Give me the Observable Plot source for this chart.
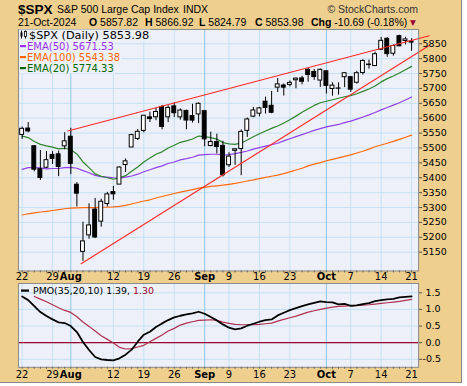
<!DOCTYPE html>
<html><head><meta charset="utf-8">
<script src="https://cdn.jsdelivr.net/npm/d3@7"></script>
<script src="https://cdn.jsdelivr.net/npm/@observablehq/plot@0.6"></script>
<style>
body{margin:0;background:#fff;}
#wrap{position:relative;width:461px;height:382px;background:#EECF8E;border-right:1px solid #8a8a8a;border-bottom:1px solid #8a8a8a;overflow:hidden;font-family:"DejaVu Sans",sans-serif}
#wrap svg{position:absolute;left:0;overflow:visible}
</style></head>
<body><div id="wrap"></div>
<script>
// ---- data ----
const dates = ["Jul22","Jul23","Jul24","Jul25","Jul26","Jul29","Jul30","Jul31","Aug1","Aug2",
"Aug5","Aug6","Aug7","Aug8","Aug9","Aug12","Aug13","Aug14","Aug15","Aug16",
"Aug19","Aug20","Aug21","Aug22","Aug23","Aug26","Aug27","Aug28","Aug29","Aug30",
"Sep3","Sep4","Sep5","Sep6","Sep9","Sep10","Sep11","Sep12","Sep13","Sep16",
"Sep17","Sep18","Sep19","Sep20","Sep23","Sep24","Sep25","Sep26","Sep27","Sep30",
"Oct1","Oct2","Oct3","Oct4","Oct7","Oct8","Oct9","Oct10","Oct11","Oct14",
"Oct15","Oct16","Oct17","Oct18","Oct21"];
const opens = [5544.0,5565.3,5505.8,5428.7,5433.7,5476.6,5478.7,5505.6,5537.8,5376.6,
5151.1,5206.4,5293.1,5252.6,5311.7,5351.9,5377.0,5442.6,5501.7,5530.5,
5557.2,5602.9,5603.1,5637.8,5602.9,5639.7,5602.9,5624.5,5607.3,5612.7,
5623.9,5506.7,5520.1,5507.3,5442.1,5490.5,5496.4,5557.5,5605.2,5615.2,
5655.5,5641.7,5702.6,5709.8,5711.9,5727.5,5733.7,5762.2,5755.4,5726.5,
5757.7,5698.2,5699.0,5737.8,5737.8,5719.1,5751.8,5778.4,5775.1,5829.8,
5866.7,5816.6,5875.6,5859.4,5857.8];
const highs = [5570.4,5585.3,5508.0,5491.6,5488.3,5487.7,5489.5,5551.5,5566.2,5383.9,
5250.9,5312.3,5330.6,5328.0,5351.0,5371.2,5436.5,5463.2,5546.2,5562.0,
5608.3,5620.5,5632.7,5643.2,5641.8,5651.6,5631.2,5627.0,5647.0,5651.4,
5623.9,5553.0,5546.3,5522.5,5484.2,5497.9,5560.4,5600.7,5636.3,5636.1,
5670.8,5689.8,5733.6,5715.1,5725.4,5735.3,5741.0,5767.4,5763.8,5765.1,
5757.7,5719.1,5718.8,5753.3,5739.3,5757.6,5796.8,5795.0,5822.1,5871.4,
5870.4,5846.5,5878.5,5872.2,5866.9];
const lows = [5529.0,5550.9,5420.0,5391.0,5430.7,5444.4,5403.9,5493.8,5410.4,5302.0,
5119.3,5193.6,5195.5,5233.9,5302.0,5324.4,5377.0,5417.8,5501.7,5525.2,
5550.7,5585.5,5591.6,5561.0,5585.2,5602.3,5593.5,5561.0,5583.7,5581.8,
5504.3,5503.7,5480.2,5402.6,5434.5,5441.7,5407.0,5535.5,5601.7,5604.5,
5614.1,5615.1,5686.4,5674.5,5704.9,5699.0,5712.1,5721.0,5727.3,5703.5,
5681.3,5674.0,5677.4,5702.8,5686.9,5714.6,5745.0,5764.8,5775.1,5829.8,
5804.5,5808.3,5840.3,5846.1,5824.8];
const closes = [5564.4,5555.7,5427.1,5399.2,5459.1,5463.5,5436.4,5522.3,5446.7,5346.6,
5186.3,5240.0,5199.5,5319.3,5344.2,5344.4,5434.4,5455.2,5543.2,5554.3,
5608.3,5597.1,5620.9,5570.6,5634.6,5616.8,5625.8,5592.2,5592.0,5648.4,
5528.9,5520.1,5503.4,5408.4,5471.1,5495.5,5554.1,5595.8,5626.0,5633.1,
5634.6,5618.3,5713.6,5702.6,5718.6,5732.9,5722.3,5745.4,5738.2,5762.5,
5708.8,5709.5,5699.9,5751.1,5695.9,5751.1,5792.0,5780.1,5815.0,5859.9,
5815.3,5842.5,5841.5,5864.7,5854.0];
const ema20 = [5540,5535,5522,5512,5507,5503,5497,5499,5494,5480,
5453,5434,5413,5405,5400,5395,5400,5407,5422,5436,
5453,5466,5479,5487,5500,5509,5519,5524,5530,5540,
5538,5535,5530,5518,5514,5512,5517,5527,5538,5548,
5557,5566,5574,5584,5595,5607,5620,5632,5643,5652,
5657,5662,5667,5672,5676,5682,5690,5698,5708,5722,
5733,5742,5752,5763,5774];
const ema50 = [5428,5434,5434,5433,5430,5431,5431,5434,5435,5432,
5424,5417,5408,5404,5402,5400,5399,5402,5406,5412,
5420,5427,5434,5440,5448,5453,5460,5464,5469,5476,
5478,5479,5479,5477,5478,5481,5485,5490,5496,5501,
5506,5511,5516,5524,5531,5538,5545,5552,5559,5565,
5571,5575,5579,5585,5590,5597,5604,5611,5619,5628,
5636,5644,5652,5661,5671];
const ema100 = [5275,5279,5282,5285,5287,5290,5293,5296,5298,5299,
5300,5300,5300,5301,5301,5302,5304,5307,5312,5317,
5322,5326,5332,5337,5342,5347,5352,5356,5360,5365,
5368,5371,5373,5375,5378,5381,5385,5389,5393,5397,
5401,5405,5409,5414,5420,5426,5432,5440,5446,5451,
5457,5462,5467,5472,5477,5483,5489,5496,5504,5510,
5516,5522,5529,5536,5543];
const pmo = [1.39,1.28,1.10,0.92,0.80,0.70,0.61,0.59,0.50,0.32,
0.02,-0.22,-0.43,-0.50,-0.52,-0.53,-0.47,-0.36,-0.21,0.03,
0.24,0.33,0.47,0.58,0.68,0.76,0.81,0.85,0.88,0.93,
0.87,0.77,0.67,0.55,0.45,0.40,0.43,0.51,0.57,0.63,
0.68,0.70,0.82,0.90,0.98,1.04,1.10,1.15,1.20,1.24,
1.22,1.21,1.15,1.17,1.11,1.12,1.16,1.19,1.25,1.28,
1.30,1.32,1.36,1.38,1.39];
const pmoSignal = [null,null,1.39,1.31,1.23,1.14,1.05,0.97,0.91,0.78,
0.62,0.49,0.35,0.21,0.10,-0.01,-0.14,-0.19,-0.18,-0.13,
-0.08,0.03,0.13,0.23,0.35,0.43,0.53,0.59,0.63,0.67,
0.68,0.69,0.67,0.62,0.58,0.55,0.54,0.54,0.54,0.55,
0.57,0.59,0.65,0.70,0.75,0.80,0.86,0.92,0.96,1.00,
1.04,1.07,1.09,1.10,1.11,1.12,1.13,1.14,1.16,1.18,
1.20,1.22,1.24,1.27,1.30];
// trendlines (day index, value)
const upperTrendIdx = [7.5, 66.9];
const upperTrendVal = [5557, 5877];
const lowerTrendIdx = [9.7, 66.9];
const lowerTrendVal = [5111, 5844];
// axis ticks
const xTickIdx = [0,5,8,15,20,25,30,34,39,44,50,54,59,64];
const xTickLabels = ["22","29","Aug","12","19","26","Sep","9","16","23","Oct","7","14","21"];
const monthTickIdx = [8,30,50];
const priceTicks = [5150,5200,5250,5300,5350,5400,5450,5500,5550,5600,5650,5700,5750,5800,5850];
const pmoTicks = [-0.5,0,0.5,1.0,1.5];
const header = {sym:"$SPX", name:"S&P 500 Large Cap Index", exch:"INDX", date:"21-Oct-2024",
  o:"5857.82", h:"5866.92", l:"5824.79", c:"5853.98", chg:"-10.69 (-0.18%)"};
const legendLabels = ["$SPX (Daily) 5853.98","EMA(50) 5671.53","EMA(100) 5543.38","EMA(20) 5774.33"];
const pmoLabel = ["PMO(35,20,10) 1.39, ", "1.30"];

// ---- build ----
const candles = dates.map((d,i)=>({i, date:d, open:opens[i], high:highs[i], low:lows[i], close:closes[i]}));
const series = (arr)=>arr.map((v,i)=>({i, v}));
const trend = (ix, vs)=>ix.map((x,k)=>({i:x, v:vs[k]}));
const labelOf = new Map(xTickIdx.map((d,k)=>[d, xTickLabels[k]]));
const weekIdx = xTickIdx.filter(d=>!monthTickIdx.includes(d));
const allIdx = dates.map((d,i)=>i);
const xDomain = [-0.6, 65.15];

const PANEL = "#EEF0F9", GRID = "#C3E2F3", MGRID = "#8DC8EA", BORDER = "#8a8a8a";
const FF = "DejaVu Sans, sans-serif";
const AF = "Liberation Sans, Arial, sans-serif";

const main = Plot.plot({
  width: 462, height: 265,
  marginLeft: 18, marginRight: 43, marginTop: 9, marginBottom: 14,
  x: {domain: xDomain, axis: null},
  y: {domain: [5087, 5898], axis: null},
  style: {fontFamily: FF, background: "transparent", overflow: "visible"},
  marks: [
    Plot.frame({fill: PANEL}),
    Plot.gridY(priceTicks, {stroke: GRID, strokeOpacity: 1}),
    Plot.gridX(weekIdx, {stroke: GRID, strokeOpacity: 1}),
    Plot.gridX(monthTickIdx, {stroke: MGRID, strokeOpacity: 1}),
    Plot.line(series(ema100), {x: "i", y: "v", stroke: "#FF6A10", strokeWidth: 1.2}),
    Plot.line(series(ema50), {x: "i", y: "v", stroke: "#9040E8", strokeWidth: 1.2}),
    Plot.line(series(ema20), {x: "i", y: "v", stroke: "#2F832F", strokeWidth: 1.2}),
    Plot.ruleX(candles, {x: "i", y1: "low", y2: "high", stroke: "#000", strokeWidth: 1}),
    Plot.rect(candles.filter(d=>d.close>=d.open), {x1: d=>d.i-0.5, x2: d=>d.i+0.5, y1: "open", y2: "close", insetLeft: 1.1, insetRight: 1.1, fill: "#fff", stroke: "#000"}),
    Plot.rect(candles.filter(d=>d.close<d.open), {x1: d=>d.i-0.5, x2: d=>d.i+0.5, y1: "open", y2: "close", insetLeft: 1.1, insetRight: 1.1, fill: "#000", stroke: "#000"}),
    Plot.line(trend(upperTrendIdx, upperTrendVal), {x: "i", y: "v", stroke: "#FF2A2A", strokeWidth: 1.1}),
    Plot.line(trend(lowerTrendIdx, lowerTrendVal), {x: "i", y: "v", stroke: "#FF2A2A", strokeWidth: 1.1}),
    Plot.frame({stroke: BORDER}),
    Plot.axisY({anchor: "right", label: null, ticks: priceTicks, tickSize: 3, tickPadding: 1, tickFormat: d=>String(d), fontSize: 9.5, stroke: "#555", fill: "#000"}),
    Plot.axisX({anchor: "bottom", label: null, ticks: allIdx, tickSize: 2, tickFormat: ()=>"", stroke: "#666"}),
    Plot.axisX({anchor: "bottom", label: null, ticks: weekIdx, tickSize: 0, tickPadding: 1.5, tickFormat: d=>labelOf.get(d), fontSize: 10, fill: "#000"}),
    Plot.axisX({anchor: "bottom", label: null, ticks: monthTickIdx, tickSize: 0, tickPadding: 1.5, tickFormat: d=>labelOf.get(d), fontSize: 10, fontWeight: "bold", fill: "#000"})
  ]
});
main.style.top = "20px";
document.getElementById("wrap").appendChild(main);

const low = Plot.plot({
  width: 462, height: 105,
  marginLeft: 18, marginRight: 43, marginTop: 5, marginBottom: 16,
  x: {domain: xDomain, axis: null},
  y: {domain: [-0.74, 1.78], axis: null},
  style: {fontFamily: FF, background: "transparent", overflow: "visible"},
  marks: [
    Plot.frame({fill: PANEL}),
    Plot.gridY(pmoTicks, {stroke: GRID, strokeOpacity: 1}),
    Plot.gridX(weekIdx, {stroke: GRID, strokeOpacity: 1}),
    Plot.gridX(monthTickIdx, {stroke: MGRID, strokeOpacity: 1}),
    Plot.ruleY([0], {stroke: "#A0002E", strokeWidth: 1.2}),
    Plot.line(series(pmoSignal), {x: "i", y: "v", stroke: "#B03050", strokeWidth: 1.2}),
    Plot.line(series(pmo), {x: "i", y: "v", stroke: "#000", strokeWidth: 1.8}),
    Plot.frame({stroke: BORDER}),
    Plot.axisY({anchor: "right", label: null, ticks: pmoTicks.filter(d=>d<0), tickSize: 3, tickPadding: 1, tickFormat: d=>d.toFixed(1), fontSize: 9.5, stroke: "#555", fill: "#000"}),
    Plot.axisY({anchor: "right", label: null, ticks: pmoTicks.filter(d=>d>=0), tickSize: 3, tickPadding: 4, tickFormat: d=>d.toFixed(1), fontSize: 9.5, stroke: "#555", fill: "#000"}),
    Plot.axisX({anchor: "bottom", label: null, ticks: allIdx, tickSize: 2, tickFormat: ()=>"", stroke: "#666"}),
    Plot.axisX({anchor: "bottom", label: null, ticks: weekIdx, tickSize: 0, tickPadding: 3.5, tickFormat: d=>labelOf.get(d), fontSize: 10, fill: "#000"}),
    Plot.axisX({anchor: "bottom", label: null, ticks: monthTickIdx, tickSize: 0, tickPadding: 3.5, tickFormat: d=>labelOf.get(d), fontSize: 10, fontWeight: "bold", fill: "#000"})
  ]
});
low.style.top = "278px";
document.getElementById("wrap").appendChild(low);

// ---- texts (header, legends) ----
const ov = d3.select("#wrap").append("svg").attr("width", 461).attr("height", 382)
  .style("top", "0px").style("font-family", FF).style("pointer-events", "none");
ov.append("text").attr("x", 18).attr("y", 14).attr("font-family", AF)
  .attr("font-weight", "bold").attr("font-size", 13.5).text(header.sym);
ov.append("text").attr("x", 57).attr("y", 13).attr("font-family", AF).attr("font-size", 10.5).text(header.name);
ov.append("text").attr("x", 183).attr("y", 13).attr("font-family", AF).attr("font-size", 10.5).text(header.exch);
ov.append("text").attr("x", 418).attr("y", 13).attr("text-anchor", "end").attr("font-family", AF).attr("font-size", 10.5).attr("fill", "#333").text("\u00A9 StockCharts.com");
const l2 = [[18, "", header.date], [89, "O", " " + header.o], [145, "H", " " + header.h], [199, "L", " " + header.l], [255, "C", " " + header.c], [311, "Chg", " " + header.chg]];
l2.forEach(([x, b, t]) => {
  const tx = ov.append("text").attr("x", x).attr("y", 26).attr("font-family", AF).attr("font-size", 10.5);
  if (b) tx.append("tspan").attr("font-weight", "bold").text(b);
  tx.append("tspan").text(t);
});
ov.append("text").attr("x", 410).attr("y", 25).attr("font-size", 7.5).attr("fill", "#990033").text("\u25BC");

const legColors = ["#000", "#9933EE", "#FF6600", "#006600"];
const legY = [38.5, 49.5, 60.5, 71.5];
const legX = [29, 27, 27, 27];
const legFS = [11.3, 10, 10, 10];
legendLabels.forEach((s, k) => {
  const g = ov.append("g");
  const bg = g.append("rect").attr("fill", PANEL);
  const t = g.append("text").attr("x", legX[k]).attr("y", legY[k]).attr("font-size", legFS[k]).attr("fill", legColors[k]).text(s);
  const bb = t.node().getBBox();
  bg.attr("x", 19).attr("y", bb.y + 1).attr("width", bb.x + bb.width - 19 + 1).attr("height", bb.height - 1);
  if (k === 0) {
    g.append("line").attr("x1", 21.5).attr("x2", 21.5).attr("y1", legY[k]-8).attr("y2", legY[k]).attr("stroke", "#000");
    g.append("rect").attr("x", 20.5).attr("y", legY[k]-6).attr("width", 2).attr("height", 4).attr("fill", "#000");
    g.append("line").attr("x1", 25.5).attr("x2", 25.5).attr("y1", legY[k]-8).attr("y2", legY[k]).attr("stroke", "#000");
    g.append("rect").attr("x", 24.5).attr("y", legY[k]-7).attr("width", 2).attr("height", 5).attr("fill", "#fff").attr("stroke", "#000").attr("stroke-width", 0.8);
  } else {
    g.append("rect").attr("x", 20).attr("y", legY[k]-4.5).attr("width", 6).attr("height", 2.2).attr("fill", legColors[k]);
  }
});
ov.append("rect").attr("x", 21).attr("y", 289.5).attr("width", 8).attr("height", 2.2).attr("fill", "#000");
const pt = ov.append("text").attr("x", 33).attr("y", 294).attr("font-size", 9.4);
pt.append("tspan").text(pmoLabel[0]);
pt.append("tspan").attr("fill", "#A0002E").text(pmoLabel[1]);
</script>
</body></html>
